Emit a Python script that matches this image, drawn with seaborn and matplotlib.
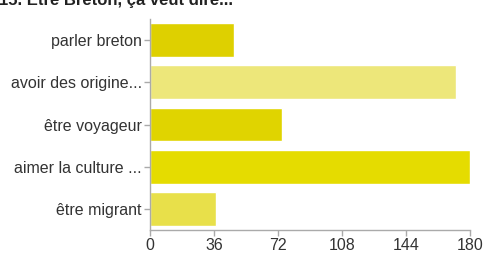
import matplotlib
matplotlib.use("Agg")
import matplotlib.pyplot as plt
import seaborn as sns
import pandas as pd

# --- Data ---
categories = ["parler breton", "avoir des origine...", "être voyageur",
              "aimer la culture ...", "être migrant"]
counts = [47, 172, 74, 180, 37]
bar_colors = ["#ded000", "#ede77a", "#e0d400", "#e5dc00", "#e8e04a"]
x_ticks = [0, 36, 72, 108, 144, 180]
title = "15. Être Breton, ça veut dire..."

df = pd.DataFrame({"label": categories, "count": counts})

# --- Plot ---
sns.set_theme(style="white")
plt.rcParams["font.family"] = ["Liberation Sans", "DejaVu Sans"]

fig = plt.figure(figsize=(4.85, 2.54), dpi=100)
ax = fig.add_axes([150 / 485, 24 / 254, 320 / 485, 211 / 254])

sns.barplot(data=df, x="count", y="label", hue="label", palette=bar_colors,
            legend=False, width=0.8, saturation=1, ax=ax)

ax.set_xlim(0, 180)
ax.set_xticks(x_ticks)
ax.set_xlabel("")
ax.set_ylabel("")
for side in ["top", "right"]:
    ax.spines[side].set_visible(False)
for side in ["left", "bottom"]:
    ax.spines[side].set_color("#aaaaaa")
    ax.spines[side].set_linewidth(1)
ax.tick_params(axis="both", which="major", length=4, width=1, color="#aaaaaa",
               labelsize=11.5, labelcolor="#333333", pad=2)
ax.tick_params(axis="y", left=True)
ax.tick_params(axis="x", bottom=True)

fig.text(-1 / 485, (254 - 5) / 254, title, fontsize=12, fontweight="bold",
         va="baseline", ha="left", color="#222222")

fig.savefig("out.png", dpi=100)
